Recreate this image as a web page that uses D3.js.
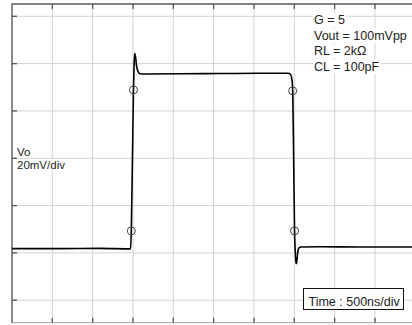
<!DOCTYPE html>
<html>
<head>
<meta charset="utf-8">
<script src="https://cdnjs.cloudflare.com/ajax/libs/d3/7.8.5/d3.min.js"></script>
<style>
	html, body { margin: 0; padding: 0; background: #fff; }
	svg { display: block; }
	text { font-family: "Liberation Sans", Arial, sans-serif; fill: #222; }
</style>
</head>
<body>
<svg id="chart"></svg>
<script>
// time in ns, voltage in mV
const timeNs = [0, 595, 1091, 1469, 1479, 1493, 1506, 1515, 1522, 1532, 1543, 1562, 1587, 1661,
	2083, 2579, 3074, 3422, 3453, 3471, 3480, 3492, 3503, 3512, 3521, 3531, 3543, 3558, 3583,
	3818, 4314, 4959]
const voltMv = [1.8, 1.8, 1.9, 1.7, 9.3, 39.3, 68.9, 80.7, 84.3, 82.8, 79.4, 76.7, 75.7, 75.6,
	75.7, 75.8, 75.9, 75.9, 75.4, 73.1, 68.5, 39.3, 9.3, 0.4, -4.6, -3.8, 0.4, 2.1, 2.5,
	2.6, 2.5, 2.5]
// 10% / 90% markers
const markerT = [1479, 1506, 3480, 3503]
const markerV = [9.3, 68.9, 68.5, 9.3]

const gridT = [0, 500, 1000, 1500, 2000, 2500, 3000, 3500, 4000, 4500]
const gridV = [-20, 0, 20, 40, 60, 80, 100]

const infoLines = ['G = 5', 'Vout = 100mVpp', 'RL = 2kΩ', 'CL = 100pF']
const axisLines = ['Vo', '20mV/div']
const timeLabel = 'Time : 500ns/div'

const width = 412, height = 325
const frame = { left: 12, top: 4, right: 412, bottom: 322.7 }

const svg = d3.select('#chart')
	.attr('width', width)
	.attr('height', height)

const x = d3.scaleLinear()
	.domain([0, 4959])
	.range([frame.left, frame.right])
const y = d3.scaleLinear()
	.domain([-29.5, 105.2])
	.range([frame.bottom, frame.top])

// grid
svg.append('g')
	.selectAll('line')
	.data(gridT.slice(1))
	.join('line')
	.attr('x1', d => x(d)).attr('x2', d => x(d))
	.attr('y1', frame.top).attr('y2', frame.bottom)
	.attr('stroke', '#d2d2d2')
	.attr('stroke-width', 1)

svg.append('g')
	.selectAll('line')
	.data(gridV)
	.join('line')
	.attr('x1', frame.left).attr('x2', frame.right)
	.attr('y1', d => y(d)).attr('y2', d => y(d))
	.attr('stroke', '#d2d2d2')
	.attr('stroke-width', 1)

// frame: left/top dark, bottom light, right open
svg.append('line')
	.attr('x1', frame.left).attr('x2', frame.right)
	.attr('y1', frame.bottom).attr('y2', frame.bottom)
	.attr('stroke', '#b4b4b4').attr('stroke-width', 1.2)
svg.append('path')
	.attr('d', `M${frame.left},${frame.bottom}V${frame.top}H${frame.right}`)
	.attr('fill', 'none')
	.attr('stroke', '#5a5a5a')
	.attr('stroke-width', 1.4)

// ticks
const ticks = svg.append('g')
	.attr('stroke', '#555')
	.attr('stroke-width', 1.3)
ticks.selectAll('.tt')
	.data(gridT.slice(1))
	.join('line')
	.attr('x1', d => x(d)).attr('x2', d => x(d))
	.attr('y1', frame.top).attr('y2', frame.top + 5)
ticks.selectAll('.tb')
	.data(gridT.slice(1))
	.join('line')
	.attr('x1', d => x(d)).attr('x2', d => x(d))
	.attr('y1', frame.bottom).attr('y2', frame.bottom - 5)
ticks.selectAll('.tl')
	.data(gridV)
	.join('line')
	.attr('x1', frame.left).attr('x2', frame.left + 5)
	.attr('y1', d => y(d)).attr('y2', d => y(d))

// labels with white backing
function label(lines, x0, y0, step, size) {
	const g = svg.append('g')
	lines.forEach((s, i) => {
		const t = g.append('text')
			.attr('x', x0)
			.attr('y', y0 + i * step)
			.attr('font-size', size)
			.text(s)
		const b = t.node().getBBox()
		g.insert('rect', 'text')
			.attr('x', b.x - 1).attr('y', b.y)
			.attr('width', b.width + 2).attr('height', b.height)
			.attr('fill', '#fff')
	})
}
label(infoLines, 314, 24.3, 15.5, 12.5)
label(axisLines, 17, 156, 13, 11.5)

// time box
const tb = svg.append('g')
tb.append('rect')
	.attr('x', 303.5).attr('y', 288.5)
	.attr('width', 100).attr('height', 21)
	.attr('fill', '#fff')
	.attr('stroke', '#111')
	.attr('stroke-width', 1)
tb.append('text')
	.attr('x', 308.5).attr('y', 306)
	.attr('font-size', 12.5)
	.text(timeLabel)

// trace
const line = d3.line()
	.x((d, i) => x(timeNs[i]))
	.y(d => y(d))
	.curve(d3.curveMonotoneX)

svg.append('path')
	.datum(voltMv)
	.attr('d', line)
	.attr('fill', 'none')
	.attr('stroke', '#000')
	.attr('stroke-width', 1.6)

svg.append('g')
	.selectAll('circle')
	.data(markerT)
	.join('circle')
	.attr('cx', d => x(d))
	.attr('cy', (d, i) => y(markerV[i]))
	.attr('r', 4)
	.attr('fill', 'none')
	.attr('stroke', '#444')
	.attr('stroke-width', 1)
</script>
</body>
</html>
